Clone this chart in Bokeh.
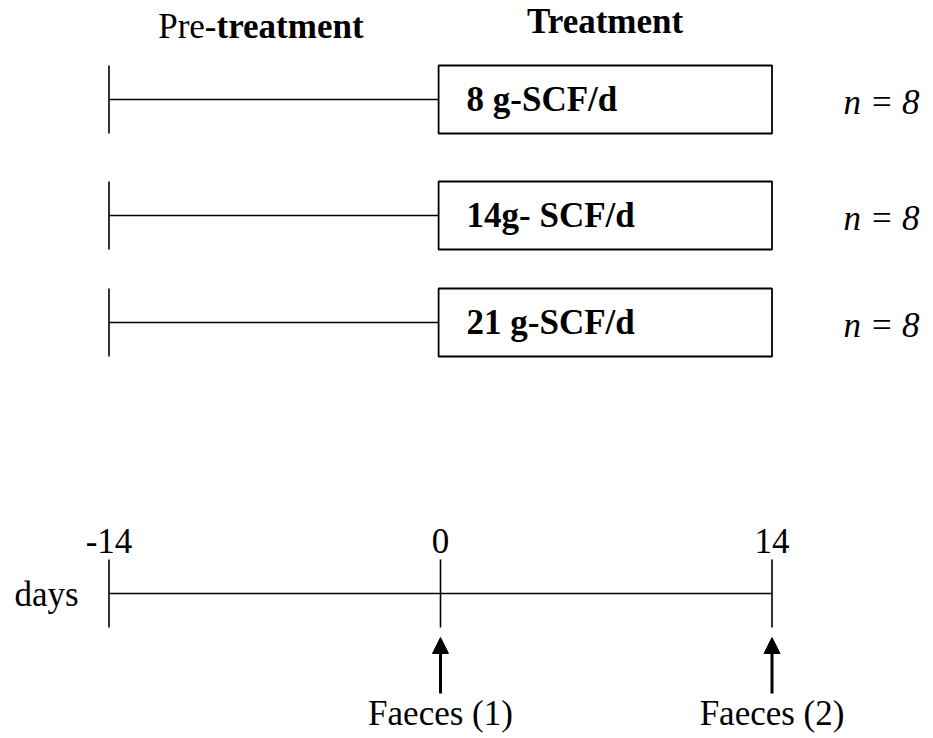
from bokeh.plotting import figure
from bokeh.models import Range1d, Arrow, NormalHead
from bokeh.core.properties import value
from bokeh.embed import file_html
from bokeh.resources import INLINE

# ---- data ----
groups = ["8 g-SCF/d", "14g- SCF/d", "21 g-SCF/d"]
group_n = [8, 8, 8]
pre_start = -14
treat_start = 0
treat_end = 14
day_ticks = [-14, 0, 14]
day_tick_labels = ["-14", "0", "14"]
sample_days = [0, 14]
sample_labels = ["Faeces (1)", "Faeces (2)"]

# ---- layout (y in screen-like units, top = small) ----
PX_PER_DAY = 23.68
X0 = 440.0
W, H = 925, 736
row_y = [99, 215, 322]
box_half = 34
tick_half = 34
axis_y = 593
FONT = value("Liberation Serif")
FS = "35px"

def d(px):
    return (px - X0) / PX_PER_DAY

p = figure(width=W, height=H, output_backend="svg", toolbar_location=None,
           x_range=Range1d(d(0), d(W)), y_range=Range1d(H, 0),
           min_border=0)
p.axis.visible = False
p.grid.visible = False
p.outline_line_color = None
p.background_fill_color = "white"
p.border_fill_color = "white"

# titles
split = d(216)
p.text(x=[split], y=[26], text=["Pre-"], text_font=FONT, text_font_size=FS,
       text_align="right", text_baseline="middle", text_color="black")
p.text(x=[split], y=[26], text=["treatment"], text_font=FONT, text_font_size=FS,
       text_font_style="bold", text_align="left", text_baseline="middle", text_color="black")
p.text(x=[(treat_start + treat_end) / 2 - 0.05], y=[21], text=["Treatment"], text_font=FONT,
       text_font_size=FS, text_font_style="bold", text_align="center",
       text_baseline="middle", text_color="black")

# group rows
for yy, g, n in zip(row_y, groups, group_n):
    p.segment(x0=[pre_start], y0=[yy], x1=[treat_start], y1=[yy], line_color="black", line_width=1.6)
    p.segment(x0=[pre_start], y0=[yy - tick_half], x1=[pre_start], y1=[yy + tick_half],
              line_color="black", line_width=1.6)
    p.quad(left=[treat_start - 0.08], right=[treat_end], top=[yy - box_half], bottom=[yy + box_half],
           fill_color="white", line_color="black", line_width=1.8)
    p.text(x=[treat_start + 1.1], y=[yy], text=[g], text_font=FONT, text_font_size=FS,
           text_font_style="bold", text_align="left", text_baseline="middle", text_color="black")
    p.text(x=[d(881)], y=[yy + 3], text=["n = %d" % n], text_font=FONT, text_font_size=FS,
           text_font_style="italic", text_align="center", text_baseline="middle", text_color="black")

# days axis
p.segment(x0=[day_ticks[0]], y0=[axis_y], x1=[day_ticks[-1]], y1=[axis_y], line_color="black", line_width=1.6)
p.segment(x0=day_ticks, y0=[axis_y - tick_half] * len(day_ticks), x1=day_ticks,
          y1=[axis_y + tick_half] * len(day_ticks), line_color="black", line_width=1.6)
p.text(x=day_ticks, y=[540] * len(day_ticks), text=day_tick_labels, text_font=FONT, text_font_size=FS,
       text_align="center", text_baseline="middle", text_color="black")
p.text(x=[d(46)], y=[594], text=["days"], text_font=FONT, text_font_size=FS,
       text_align="center", text_baseline="middle", text_color="black")

# sampling arrows
for sd, lab in zip(sample_days, sample_labels):
    p.add_layout(Arrow(x_start=sd, y_start=693, x_end=sd, y_end=637, line_color="black", line_width=3,
                       end=NormalHead(size=16, fill_color="black", line_color="black")))
    p.text(x=[sd], y=[713], text=[lab], text_font=FONT, text_font_size=FS,
           text_align="center", text_baseline="middle", text_color="black")

open("out.html", "w").write(file_html(p, INLINE))
